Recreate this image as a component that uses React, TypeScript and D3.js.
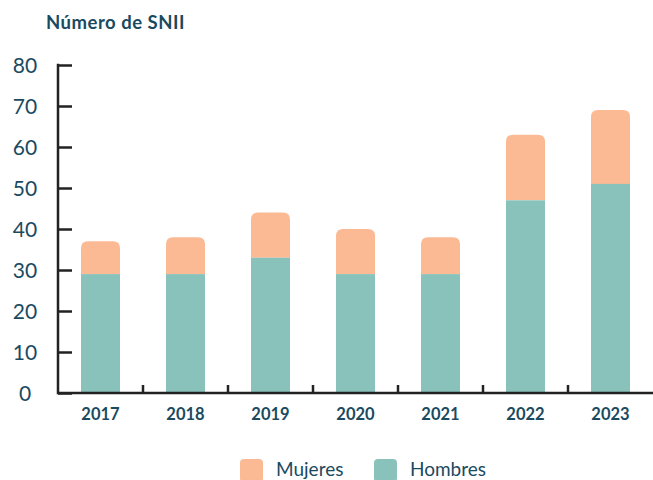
import React, {useEffect, useRef} from 'react';
import * as d3 from 'd3';

const years = ['2017', '2018', '2019', '2020', '2021', '2022', '2023'];
const hombres = [29, 29, 33, 29, 29, 47, 51];
const mujeres = [8, 9, 11, 11, 9, 16, 18];
const yTicks = [0, 10, 20, 30, 40, 50, 60, 70, 80];

const TEXT = '#1a4a60';
const TEAL = '#88c2ba';
const PEACH = '#fbb994';
const FONT = 'Lato, "Open Sans", sans-serif';

export default function App() {
    const svgRef = useRef<SVGSVGElement>(null);

    useEffect(() => {
        const W = 653, H = 480;
        const left = 58, bottom = 393, top = 65;

        const svg = d3.select(svgRef.current);
        svg.selectAll('*').remove();
        svg.attr('width', W).attr('height', H);

        const x = d3.scaleBand().domain(years).range([left, left + 85 * years.length]).paddingInner(0).paddingOuter(0);
        const y = d3.scaleLinear().domain([0, 80]).range([bottom, top]);

        const barW = 39;

        // title
        svg.append('text')
            .attr('x', 46).attr('y', 29)
            .attr('font-family', FONT).attr('font-weight', 'bold').attr('font-size', 18.5)
            .attr('letter-spacing', 0.5)
            .attr('fill', TEXT)
            .text('Número de SNII');

        // bars
        const data = years.map((yr, i) => ({yr, h: hombres[i], m: mujeres[i]}));
        const r = 7;
        data.forEach(d => {
            const cx = (x(d.yr) as number) + x.bandwidth() / 2;
            const x0 = cx - barW / 2;
            const yTop = y(d.h + d.m);
            const yMid = y(d.h);
            const p = d3.path();
            p.moveTo(x0, yMid);
            p.lineTo(x0, yTop + r);
            p.quadraticCurveTo(x0, yTop, x0 + r, yTop);
            p.lineTo(x0 + barW - r, yTop);
            p.quadraticCurveTo(x0 + barW, yTop, x0 + barW, yTop + r);
            p.lineTo(x0 + barW, yMid);
            p.closePath();
            svg.append('path').attr('d', p.toString()).attr('fill', PEACH);
            svg.append('rect')
                .attr('x', x0).attr('y', yMid)
                .attr('width', barW).attr('height', y(0) - yMid)
                .attr('fill', TEAL);
        });

        // y axis
        const yAxis = svg.append('g').attr('transform', `translate(${left},0)`)
            .call(d3.axisRight(y).tickValues(yTicks).tickSize(14).tickFormat(() => ''));
        yAxis.select('.domain').remove();
        yAxis.selectAll('line').attr('stroke', '#222').attr('stroke-width', 2.5);
        svg.append('line')
            .attr('x1', left).attr('x2', left)
            .attr('y1', y(80) - 1.2).attr('y2', bottom + 1.2)
            .attr('stroke', '#222').attr('stroke-width', 2.5);

        svg.selectAll('.ylab').data(yTicks).enter().append('text')
            .attr('class', 'ylab')
            .attr('x', 25).attr('y', d => y(d) + 7.5)
            .attr('text-anchor', 'middle')
            .attr('font-family', FONT).attr('font-size', 21)
            .attr('fill', TEXT)
            .text(d => d);

        // x axis
        svg.append('line')
            .attr('x1', left).attr('x2', W)
            .attr('y1', bottom).attr('y2', bottom)
            .attr('stroke', '#222').attr('stroke-width', 2.5);
        svg.selectAll('.xtick').data(years.slice(1)).enter().append('line')
            .attr('class', 'xtick')
            .attr('x1', d => x(d) as number).attr('x2', d => x(d) as number)
            .attr('y1', bottom).attr('y2', bottom - 8)
            .attr('stroke', '#222').attr('stroke-width', 2.5);
        svg.selectAll('.xlab').data(years).enter().append('text')
            .attr('class', 'xlab')
            .attr('x', d => (x(d) as number) + x.bandwidth() / 2)
            .attr('y', 420)
            .attr('text-anchor', 'middle')
            .attr('font-family', FONT).attr('font-weight', 'bold').attr('font-size', 16.5)
            .attr('fill', TEXT)
            .text(d => d);

        // legend
        const legend = [
            {label: 'Mujeres', color: PEACH, x: 240},
            {label: 'Hombres', color: TEAL, x: 374},
        ];
        legend.forEach(l => {
            svg.append('rect')
                .attr('x', l.x).attr('y', 459)
                .attr('width', 23).attr('height', 23).attr('rx', 4)
                .attr('fill', l.color);
            svg.append('text')
                .attr('x', l.x + 36).attr('y', 476)
                .attr('font-family', FONT).attr('font-size', 19)
                .attr('fill', TEXT)
                .text(l.label);
        });
    }, []);

    return (
        <div style={{position: 'absolute', left: 0, top: 0}}>
            <svg ref={svgRef}></svg>
        </div>
    );
}
